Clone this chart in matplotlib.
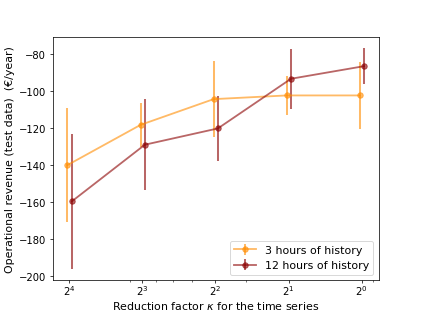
import matplotlib
matplotlib.use("Agg")
import matplotlib.pyplot as plt
from matplotlib.ticker import LogLocator, NullFormatter
import numpy as np

factors = [16, 8, 4, 2, 1]
rev_3h = [-140.0, -118.3, -104.4, -102.4, -102.4]
err_3h = [30.8, 12.0, 20.4, 10.6, 18.0]
rev_12h = [-159.6, -129.0, -120.2, -93.4, -86.6]
err_12h = [36.6, 24.6, 17.6, 16.3, 9.7]
labels = ["3 hours of history", "12 hours of history"]

plt.rcParams["font.size"] = 12
DPI = 421 / 6.4
fig, ax = plt.subplots(figsize=(6.4, 4.8), dpi=DPI)
x = np.array(factors, dtype=float)
ax.errorbar(x * 1.018, rev_3h, yerr=err_3h, color="darkorange", alpha=0.6,
            marker="o", markersize=6, lw=2, elinewidth=2.2, label=labels[0])
ax.errorbar(x * 0.977, rev_12h, yerr=err_12h, color="darkred", alpha=0.6,
            marker="o", markersize=6, lw=2, elinewidth=2.2, label=labels[1])
ax.set_xscale("log", base=2)
ax.xaxis.set_minor_locator(LogLocator(base=10, subs=np.arange(2, 10), numticks=20))
ax.xaxis.set_minor_formatter(NullFormatter())
ax.invert_xaxis()
ax.tick_params(axis="both", which="major", labelsize=11)
ax.tick_params(axis="x", which="major", pad=0.5)
ax.set_xlabel(r"Reduction factor $\kappa$ for the time series", labelpad=1.5)
ax.set_ylabel("Operational revenue (test data)  (€/year)")
ax.legend(loc="lower right")
fig.savefig("out.png", dpi=DPI)
